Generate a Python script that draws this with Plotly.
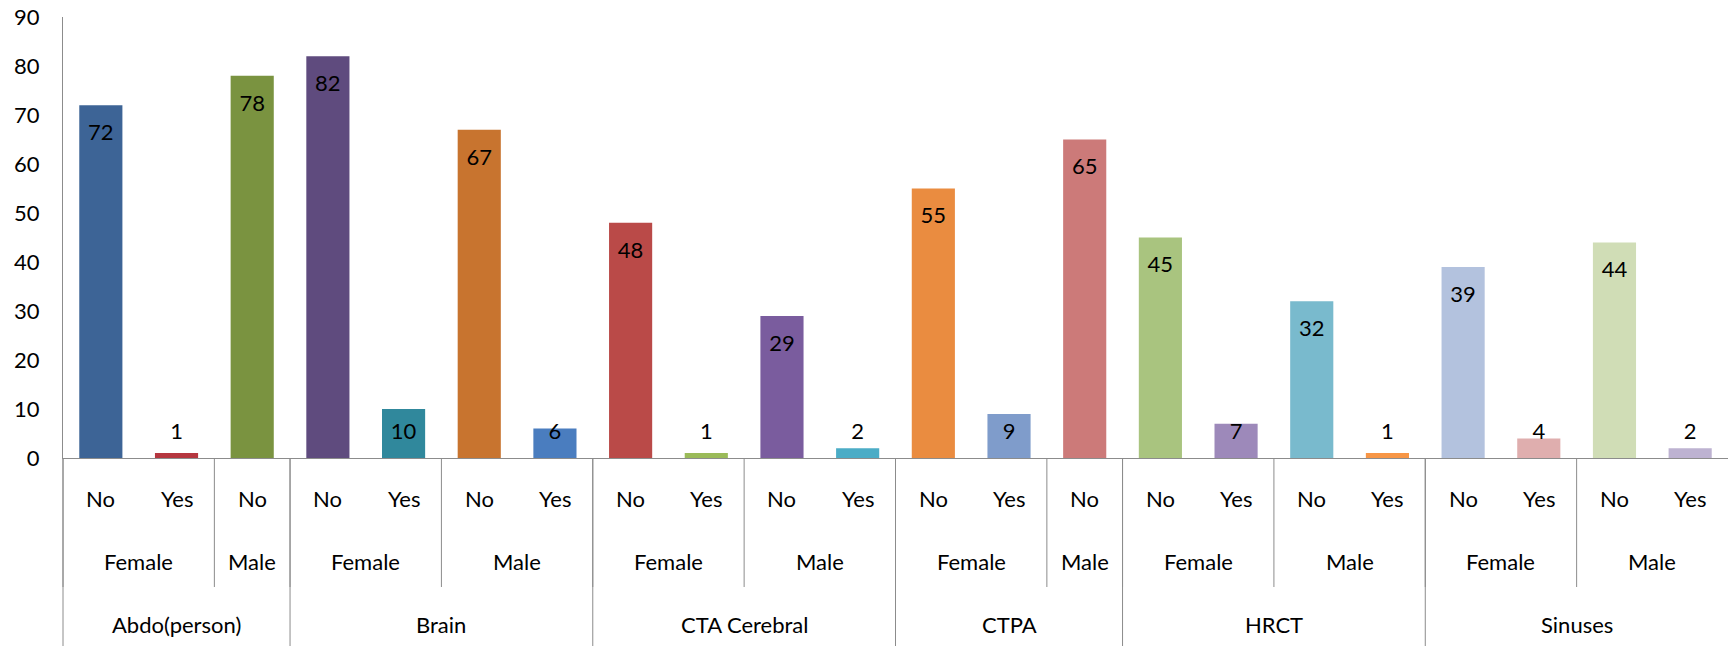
import plotly.graph_objects as go

# ---- data ----
exams = ["Abdo(person)", "Abdo(person)", "Abdo(person)",
         "Brain", "Brain", "Brain", "Brain",
         "CTA Cerebral", "CTA Cerebral", "CTA Cerebral", "CTA Cerebral",
         "CTPA", "CTPA", "CTPA",
         "HRCT", "HRCT", "HRCT", "HRCT",
         "Sinuses", "Sinuses", "Sinuses", "Sinuses"]
genders = ["Female", "Female", "Male",
           "Female", "Female", "Male", "Male",
           "Female", "Female", "Male", "Male",
           "Female", "Female", "Male",
           "Female", "Female", "Male", "Male",
           "Female", "Female", "Male", "Male"]
answers = ["No", "Yes", "No",
           "No", "Yes", "No", "Yes",
           "No", "Yes", "No", "Yes",
           "No", "Yes", "No",
           "No", "Yes", "No", "Yes",
           "No", "Yes", "No", "Yes"]
counts = [72, 1, 78, 82, 10, 67, 6, 48, 1, 29, 2, 55, 9, 65, 45, 7, 32, 1, 39, 4, 44, 2]
y_ticks = [0, 10, 20, 30, 40, 50, 60, 70, 80, 90]

colors = ["#3D6496", "#B5363F", "#7A9340", "#5F4B7E", "#30889C", "#C8742F",
          "#4A7DBF", "#BA4A48", "#9BBB59", "#7A5C9E", "#4BACC6", "#EA8C40",
          "#7F9CCB", "#CC7A79", "#A9C47F", "#9D89BA", "#79BACD", "#F79646",
          "#B3C2DE", "#DFAEAE", "#D0DDB6", "#BDB2D1"]

FONT = "Lato"
FS = 22
TXT = "#000000"
n = len(counts)
xs = list(range(n))

FIG_W, FIG_H = 1728, 646
M_L, M_T, M_B = 63, 17, 188
H_PLOT = FIG_H - M_T - M_B

fig = go.Figure()
fig.add_trace(go.Bar(x=xs, y=counts, width=0.57,
                     marker=dict(color=colors, line=dict(width=0)),
                     hoverinfo="y"))
# data labels: inside end, clamped above the axis for short bars
label_y = [max(v - 6.0, 5.0) for v in counts]
fig.add_trace(go.Scatter(x=xs, y=label_y, mode="text",
                         text=[str(v) for v in counts],
                         textfont=dict(family=FONT, size=FS, color=TXT),
                         hoverinfo="skip"))

annotations = []
shapes = []

def paper_y(px_below):
    return -px_below / H_PLOT

# row 1: answers
for i, a in enumerate(answers):
    annotations.append(dict(x=i, y=0, xref="x", yref="paper", text=a,
                            showarrow=False, yshift=-40, yanchor="middle",
                            font=dict(family=FONT, size=FS, color=TXT)))

def groups(keys):
    out = []
    start = 0
    for i in range(1, n + 1):
        if i == n or keys[i] != keys[start]:
            out.append((start, i - 1, keys[start]))
            start = i
    return out

gender_keys = [e + "|" + g for e, g in zip(exams, genders)]
for s, e, k in groups(gender_keys):
    annotations.append(dict(x=(s + e) / 2, y=0, xref="x", yref="paper",
                            text=k.split("|")[1], showarrow=False, yshift=-103,
                            yanchor="middle",
                            font=dict(family=FONT, size=FS, color=TXT)))
    shapes.append(dict(type="line", xref="paper", yref="paper",
                       x0=s / n, x1=s / n, y0=0, y1=paper_y(129),
                       line=dict(color="#8C8C8C", width=1)))

for s, e, k in groups(exams):
    annotations.append(dict(x=(s + e) / 2, y=0, xref="x", yref="paper",
                            text=k, showarrow=False, yshift=-166,
                            yanchor="middle",
                            font=dict(family=FONT, size=FS, color=TXT)))
    shapes.append(dict(type="line", xref="paper", yref="paper",
                       x0=s / n, x1=s / n, y0=0, y1=paper_y(M_B),
                       line=dict(color="#8C8C8C", width=1)))

fig.update_layout(
    width=FIG_W, height=FIG_H,
    margin=dict(l=M_L, r=0, t=M_T, b=M_B),
    paper_bgcolor="white", plot_bgcolor="white",
    showlegend=False,
    annotations=annotations, shapes=shapes,
    font=dict(family=FONT, size=FS, color=TXT),
    xaxis=dict(range=[-0.5, n - 0.5], showticklabels=False, showgrid=False,
               zeroline=False, showline=True, linecolor="#8C8C8C", linewidth=1,
               ticks=""),
    yaxis=dict(range=[0, 90], tickvals=y_ticks, showgrid=False, zeroline=False,
               showline=True, linecolor="#8C8C8C", linewidth=1, ticks="",
               ticklabelstandoff=18,
               tickfont=dict(family=FONT, size=FS, color=TXT)),
)

fig.write_html("out.html",
               config={"displayModeBar": False},
               post_script="document.body.style.margin='0';document.body.style.overflow='hidden';")
